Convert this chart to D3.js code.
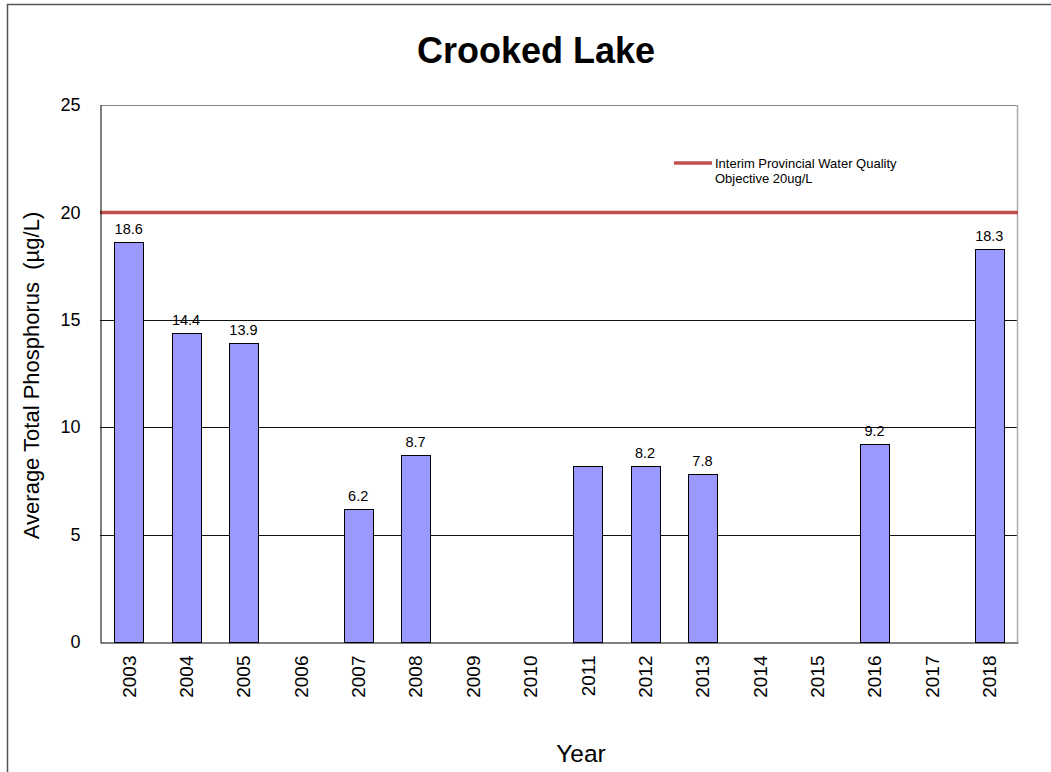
<!DOCTYPE html>
<html><head><meta charset="utf-8">
<script src="https://cdn.jsdelivr.net/npm/d3@7"></script>
<style>body{margin:0;background:#fff;} svg{display:block;font-family:Arial,"Liberation Sans",sans-serif;} text{white-space:pre;}</style>
</head><body>
<svg id="chart" width="1051" height="772"></svg>
<script>
const years = ["2003","2004","2005","2006","2007","2008","2009","2010","2011","2012","2013","2014","2015","2016","2017","2018"];
const values = [18.6,14.4,13.9,null,6.2,8.7,null,null,8.2,8.2,7.8,null,null,9.2,null,18.3];
const showLabel = [true,true,true,false,true,true,false,false,false,true,true,false,false,true,false,true];
const yTicks = [0,5,10,15,20,25];
const objective = 20;
const title = "Crooked Lake";
const yTitle = "Average Total Phosphorus  (µg/L)";
const xTitle = "Year";
const legendLines = ["Interim Provincial Water Quality","Objective 20ug/L"];

const FONT = "Arial,'Liberation Sans',sans-serif";
const svg = d3.select("#chart");
const m = {left:100, right:1018, top:105, bottom:642};

svg.append("rect").attr("x",7.5).attr("y",4.5).attr("width",1060).attr("height",800)
  .attr("fill","none").attr("stroke","#555").attr("stroke-width",1.5);

const x = d3.scaleBand().domain(years).range([m.left,m.right]).paddingInner(0.5).paddingOuter(0.25);
const y = d3.scaleLinear().domain([0,25]).range([m.bottom,m.top]);

// gridlines
svg.append("g").selectAll("line").data(yTicks.filter(d=>d>0&&d<25&&d!==objective)).join("line")
  .attr("x1",m.left).attr("x2",m.right).attr("y1",d=>Math.round(y(d))+0.5).attr("y2",d=>Math.round(y(d))+0.5)
  .attr("stroke","#111").attr("stroke-width",1);

// plot frame
svg.append("line").attr("x1",m.left).attr("x2",m.right).attr("y1",m.top+0.5).attr("y2",m.top+0.5).attr("stroke","#888");
svg.append("line").attr("x1",m.right-0.5).attr("x2",m.right-0.5).attr("y1",m.top).attr("y2",m.bottom).attr("stroke","#aaa").attr("stroke-width",1.5);

// bars
const data = years.map((yr,i)=>({yr, v:values[i], lab:showLabel[i]})).filter(d=>d.v!==null);
svg.append("g").selectAll("rect").data(data).join("rect")
  .attr("x",d=>Math.round(x(d.yr))+0.5).attr("width",Math.round(x.bandwidth()))
  .attr("y",d=>Math.round(y(d.v))+0.5).attr("height",d=>Math.round(y(0))-Math.round(y(d.v)))
  .attr("fill","#9999FF").attr("stroke","#000").attr("stroke-width",1);

svg.append("g").selectAll("text").data(data.filter(d=>d.lab)).join("text")
  .attr("x",d=>x(d.yr)+x.bandwidth()/2).attr("y",d=>y(d.v)-8)
  .attr("text-anchor","middle").attr("font-size",14.5).attr("fill","#000")
  .text(d=>d.v.toFixed(1));

// objective line
svg.append("line").attr("x1",m.left).attr("x2",m.right).attr("y1",y(objective)).attr("y2",y(objective))
  .attr("stroke","#C0504D").attr("stroke-width",3.5);

// axes
const yAxis = d3.axisLeft(y).tickValues(yTicks).tickSize(0).tickPadding(20);
const gy = svg.append("g").attr("transform",`translate(${m.left+0.5},0)`).call(yAxis);
gy.select(".domain").attr("stroke","#000");
gy.selectAll("text").attr("font-size",18).attr("font-family",FONT).attr("fill","#000");

const xAxis = d3.axisBottom(x).tickSize(0).tickPadding(0);
const gx = svg.append("g").attr("transform",`translate(0,${m.bottom+0.5})`).call(xAxis);
gx.select(".domain").attr("stroke","#000");
gx.selectAll("text").attr("font-size",19).attr("font-family",FONT).attr("fill","#000")
  .attr("transform","rotate(-90)").attr("text-anchor","end").attr("dx","-13").attr("dy","0.36em").attr("y",0).attr("x",0);

// titles
svg.append("text").attr("x",536).attr("y",63).attr("text-anchor","middle")
  .attr("font-size",36).attr("font-weight","bold").text(title);
svg.append("text").attr("transform",`translate(39,375.5) rotate(-90)`)
  .attr("text-anchor","middle").attr("font-size",22).text(yTitle);
svg.append("text").attr("x",581).attr("y",762).attr("text-anchor","middle").attr("font-size",24.5).text(xTitle);

// legend
svg.append("line").attr("x1",674).attr("x2",712).attr("y1",163).attr("y2",163).attr("stroke","#C0504D").attr("stroke-width",3.5);
svg.append("g").selectAll("text").data(legendLines).join("text")
  .attr("x",715).attr("y",(d,i)=>168+i*15).attr("font-size",13).text(d=>d);
</script>
</body></html>
